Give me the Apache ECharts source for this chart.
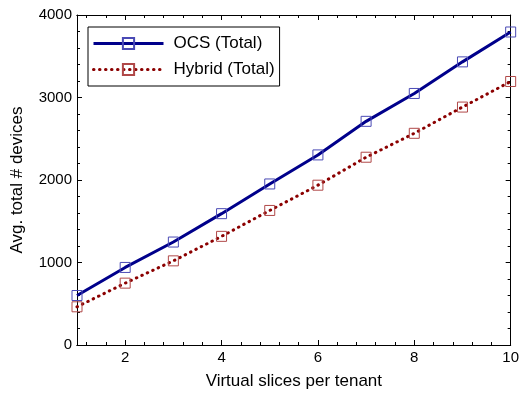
<!DOCTYPE html>
<html>
<head>
<meta charset="utf-8">
<script src="https://cdn.jsdelivr.net/npm/echarts@6/dist/echarts.min.js"></script>
<style>
html,body{margin:0;padding:0;background:#fff;}
#chart{width:522px;height:395px;}
</style>
</head>
<body>
<div id="chart"></div>
<script>
var slices = [1, 2, 3, 4, 5, 6, 7, 8, 9, 10];
var ocsTotal = [600, 940, 1248, 1592, 1952, 2304, 2711, 3049, 3432, 3794];
var hybridTotal = [463, 750, 1020, 1317, 1631, 1937, 2276, 2566, 2884, 3194];
var xMajorTicks = [2, 4, 6, 8, 10];
var xMinorTicks = [1.2, 1.6, 2.4, 2.8, 3.2, 3.6, 4.4, 4.8, 5.2, 5.6, 6.4, 6.8, 7.2, 7.6, 8.4, 8.8, 9.2, 9.6];
var seriesNames = ['OCS (Total)', 'Hybrid (Total)'];

var font = 'Liberation Sans, Arial, Helvetica, sans-serif';
var chart = echarts.init(document.getElementById('chart'));

function pairs(ys) { return slices.map(function (x, i) { return [x, ys[i]]; }); }

function xAx(pos, ticks, len, withLabel) {
  return {
    type: 'value', min: 1, max: 10, position: pos,
    gridIndex: 0,
    axisLine: { show: true, onZero: false, lineStyle: { color: '#000', width: 1 } },
    axisTick: { show: true, inside: true, length: len, customValues: ticks, lineStyle: { color: '#000', width: 1 } },
    axisLabel: withLabel ? { show: true, customValues: xMajorTicks, color: '#000', fontSize: 15, fontFamily: font, margin: 5 } : { show: false },
    splitLine: { show: false },
    name: withLabel ? 'Virtual slices per tenant' : '',
    nameLocation: 'middle', nameGap: 28,
    nameTextStyle: { color: '#000', fontSize: 17, fontFamily: font }
  };
}
function yAx(pos, withLabel) {
  return {
    type: 'value', min: 0, max: 4000, interval: 1000, position: pos,
    axisLine: { show: true, onZero: false, lineStyle: { color: '#000', width: 1 } },
    axisTick: { show: true, inside: true, length: 5, lineStyle: { color: '#000', width: 1 } },
    minorTick: { show: true, splitNumber: 5, length: 3, lineStyle: { color: '#000', width: 1 } },
    axisLabel: withLabel ? { show: true, color: '#000', fontSize: 15, fontFamily: font, margin: 5,
      formatter: function (v) { return String(v); } } : { show: false },
    splitLine: { show: false },
    minorSplitLine: { show: false },
    name: withLabel ? 'Avg. total # devices' : '',
    nameLocation: 'middle', nameGap: 51,
    nameTextStyle: { color: '#000', fontSize: 17, fontFamily: font }
  };
}

chart.setOption({
  animation: false,
  backgroundColor: '#fff',
  grid: { left: 77, right: 7, top: 15, bottom: 49, containLabel: false },
  xAxis: [
    xAx('bottom', xMajorTicks, 5, true),
    xAx('bottom', xMinorTicks, 3, false),
    xAx('top', xMajorTicks, 5, false),
    xAx('top', xMinorTicks, 3, false)
  ],
  yAxis: [yAx('left', true), yAx('right', false)],
  legend: {
    orient: 'vertical', left: 88, top: 27,
    backgroundColor: '#fff',
    borderColor: '#000', borderWidth: 1,
    padding: [8, 5, 8, 4],
    itemWidth: 70, itemHeight: 14, itemGap: 9,
    lineStyle: { width: 3 },
    textStyle: { color: '#000', fontSize: 17, fontFamily: font, padding: [0, 0, 0, 5] },
    data: seriesNames
  },
  series: [
    {
      name: seriesNames[0], type: 'line', data: pairs(ocsTotal),
      symbol: 'rect', symbolSize: 10,
      lineStyle: { color: '#00008b', width: 3 },
      itemStyle: { color: 'rgba(0,0,0,0)', borderColor: '#4a4ab5', borderWidth: 1 },
      emphasis: { disabled: true }
    },
    {
      name: seriesNames[1], type: 'line', data: pairs(hybridTotal),
      symbol: 'rect', symbolSize: 10,
      lineStyle: { color: '#8b0000', width: 3, type: [0.5, 5.5], cap: 'round' },
      itemStyle: { color: 'rgba(0,0,0,0)', borderColor: '#b04848', borderWidth: 1 },
      emphasis: { disabled: true }
    }
  ]
});
</script>
</body>
</html>
